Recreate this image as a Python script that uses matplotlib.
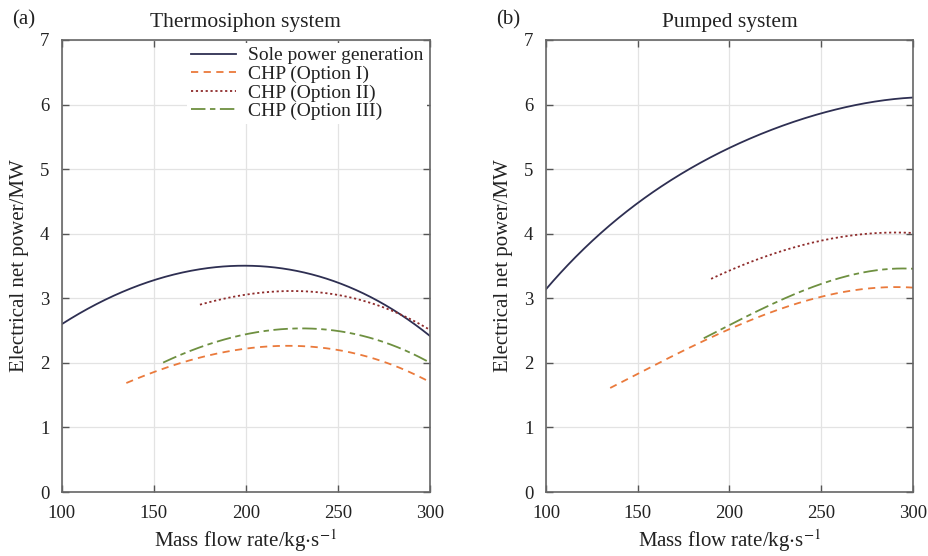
import matplotlib
matplotlib.use("Agg")
import matplotlib.pyplot as plt
import numpy as np

plt.rcParams['font.family'] = ['Liberation Serif', 'DejaVu Serif']
plt.rcParams['mathtext.fontset'] = 'stix'

# Thermosiphon system data
ts_sole_x = [100, 125, 150, 175, 200, 225, 250, 275, 300]
ts_sole_y = [2.60, 3.00, 3.28, 3.45, 3.50, 3.44, 3.25, 2.90, 2.42]
ts_opt1_x = [135, 150, 175, 200, 225, 250, 275, 300]
ts_opt1_y = [1.69, 1.86, 2.07, 2.22, 2.28, 2.20, 2.00, 1.71]
ts_opt2_x = [175, 200, 225, 250, 275, 300]
ts_opt2_y = [2.90, 3.06, 3.11, 3.05, 2.86, 2.51]
ts_opt3_x = [155, 175, 200, 230, 250, 275, 300]
ts_opt3_y = [2.00, 2.25, 2.44, 2.53, 2.49, 2.33, 2.00]

# Pumped system data
pp_sole_x = [100, 125, 150, 175, 200, 225, 250, 275, 290, 300]
pp_sole_y = [3.15, 3.85, 4.50, 4.96, 5.32, 5.62, 5.86, 6.04, 6.09, 6.10]
pp_opt1_x = [135, 150, 175, 200, 225, 250, 275, 300]
pp_opt1_y = [1.61, 1.84, 2.17, 2.53, 2.82, 3.02, 3.14, 3.17]
pp_opt2_x = [190, 200, 225, 250, 275, 290, 300]
pp_opt2_y = [3.30, 3.43, 3.70, 3.89, 4.00, 4.02, 4.01]
pp_opt3_x = [186, 200, 225, 250, 275, 300]
pp_opt3_y = [2.38, 2.59, 2.92, 3.24, 3.40, 3.46]

labels = ['Sole power generation', 'CHP (Option I)', 'CHP (Option II)', 'CHP (Option III)']
colors = ['#2e2f52', '#ea7a3c', '#8e2b2b', '#6e9040']
styles = ['-', (0, (4, 3)), (0, (1.2, 1.5)), (0, (8, 2.5, 3, 2.5))]
x_ticks = [100, 150, 200, 250, 300]
y_ticks = [0, 1, 2, 3, 4, 5, 6, 7]


def smooth(x, y):
    x = np.asarray(x, float)
    y = np.asarray(y, float)
    deg = 4 if len(x) >= 9 else 3
    xc = (x - x.mean()) / 100.0
    c = np.polyfit(xc, y, deg)
    xs = np.linspace(x[0], x[-1], 300)
    return xs, np.polyval(c, (xs - x.mean()) / 100.0)


fig = plt.figure(figsize=(9.29, 5.56), dpi=100)
ax1 = fig.add_axes([0.0667, 0.1151, 0.396, 0.813])
ax2 = fig.add_axes([0.5877, 0.1151, 0.395, 0.813])

datasets = [
    (ax1, [(ts_sole_x, ts_sole_y), (ts_opt1_x, ts_opt1_y), (ts_opt2_x, ts_opt2_y), (ts_opt3_x, ts_opt3_y)],
     'Thermosiphon system', '(a)'),
    (ax2, [(pp_sole_x, pp_sole_y), (pp_opt1_x, pp_opt1_y), (pp_opt2_x, pp_opt2_y), (pp_opt3_x, pp_opt3_y)],
     'Pumped system', '(b)'),
]

for ax, series, title, tag in datasets:
    for (x, y), lab, col, ls in zip(series, labels, colors, styles):
        xs, ys = smooth(x, y)
        ax.plot(xs, ys, color=col, linestyle=ls, linewidth=1.3, label=lab)
    ax.set_xlim(100, 300)
    ax.set_ylim(0, 7)
    ax.set_xticks(x_ticks)
    ax.set_yticks(y_ticks)
    ax.grid(True, color='#e3e3e3', linewidth=0.9)
    ax.set_axisbelow(True)
    ax.tick_params(direction='in', top=True, right=True, labelsize=13.5,
                   length=5, width=1.0, color='#555555', labelcolor='#222222', pad=9)
    for sp in ax.spines.values():
        sp.set_color('#666666')
        sp.set_linewidth(1.2)
    ax.set_xlabel(r'Mass flow rate/kg$\cdot$s$^{-1}$', fontsize=15, color='#222222', labelpad=4)
    ax.set_ylabel('Electrical net power/MW', fontsize=15, color='#222222', labelpad=8)
    ax.set_title(title, fontsize=15.5, color='#222222', pad=9)
    ax.text(-0.135, 1.035, tag, transform=ax.transAxes, fontsize=15, color='#222222')

leg = ax1.legend(loc='upper right', frameon=True, fontsize=14, handlelength=2.3,
                 borderaxespad=0.15, labelspacing=0.05, handletextpad=0.6, borderpad=0.2)
leg.get_frame().set_facecolor('white')
leg.get_frame().set_edgecolor('none')
leg.get_frame().set_alpha(1.0)
for t in leg.get_texts():
    t.set_color('#222222')

fig.savefig('out.png', dpi=100, facecolor='white')
